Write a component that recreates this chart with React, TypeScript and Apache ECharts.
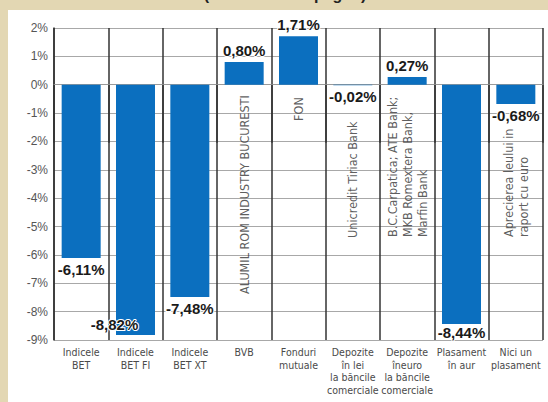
import React, { useEffect, useRef } from "react";
import * as echarts from "echarts";

const categories = [
  "Indicele\nBET",
  "Indicele\nBET FI",
  "Indicele\nBET XT",
  "BVB",
  "Fonduri\nmutuale",
  "Depozite\nîn lei\nla băncile\ncomerciale",
  "Depozite\nîneuro\nla băncile\ncomerciale",
  "Plasament\nîn aur",
  "Nici un\nplasament",
];

const returns = [-6.11, -8.82, -7.48, 0.8, 1.71, -0.02, 0.27, -8.44, -0.68];

const yTicks = { min: -9, max: 2, step: 1 };

const noteTexts = [
  "ALUMIL ROM INDUSTRY BUCURESTI",
  "FON",
  "Unicredit Tiriac Bank",
  "B.C.Carpatica; ATE Bank;\nMKB Romextera Bank,\nMarfin Bank",
  "Aprecierea leului in\nraport cu euro",
];
const noteCategories = [3, 4, 5, 6, 8];
const noteAnchors = [-0.37, -0.44, -5.4, -5.37, -5.37];
const noteAlign = ["right", "right", "left", "left", "left"];

const titleText = "(continuare în pagini)";

const labelOffsets: Record<number, number[]> = { 1: [-21, -22], 7: [0, -3] };

const fmt = (v: number) => v.toFixed(2).replace(".", ",") + "%";

export default function App() {
  const ref = useRef<HTMLDivElement>(null);
  useEffect(() => {
    if (!ref.current) return;
    const chart = echarts.init(ref.current, undefined, { renderer: "svg" });
    const narrow = "'Liberation Sans Narrow', 'DejaVu Sans Condensed', sans-serif";
    chart.setOption({
      animation: false,
      backgroundColor: "#ffffff",
      graphic: [
        { type: "rect", shape: { x: 0, y: 0, width: 548, height: 10 }, style: { fill: "#e3d7b3" } },
        { type: "rect", shape: { x: 0, y: 0, width: 8, height: 402 }, style: { fill: "#e3d7b3" } },
        {
          type: "text",
          x: 285,
          y: -6,
          style: {
            text: titleText,
            fontFamily: "'Liberation Sans', Arial, sans-serif",
            fontWeight: "bold",
            fontSize: 16,
            fill: "#222",
            align: "center",
            verticalAlign: "middle",
          },
        },
      ],
      grid: { left: 54, right: 5, top: 28, bottom: 62, containLabel: false },
      xAxis: {
        type: "category",
        data: categories,
        position: "bottom",
        axisLine: { show: true, lineStyle: { color: "#9a9a9a", width: 1 } },
        axisTick: { show: true, interval: 0, length: 58, lineStyle: { color: "#333", width: 1.5 } },
        splitLine: { show: true, interval: 0, lineStyle: { color: "#333", width: 1.5 } },
        axisLabel: {
          interval: 0,
          margin: 6,
          fontFamily: narrow,
          fontSize: 10.5,
          lineHeight: 12.5,
          color: "#4a4a4a",
        },
      },
      yAxis: {
        type: "value",
        min: yTicks.min,
        max: yTicks.max,
        interval: yTicks.step,
        axisLine: { show: true, lineStyle: { color: "#333", width: 1.5 } },
        axisTick: { show: false },
        splitLine: { show: true, lineStyle: { color: "#a8a8a8", width: 1.2 } },
        axisLabel: {
          formatter: "{value}%",
          color: "#555",
          fontSize: 12,
          margin: 6,
          fontFamily: "'Liberation Sans', Arial, sans-serif",
        },
      },
      series: [
        {
          type: "bar",
          barWidth: 39,
          itemStyle: { color: "#0b6fbf" },
          label: {
            show: true,
            position: "outside",
            distance: 4,
            formatter: (p: any) => fmt(p.value),
            fontFamily: "'Liberation Sans', Arial, sans-serif",
            fontWeight: "bold",
            fontSize: 15,
            color: "#1a1a1a",
            textBorderColor: "#ffffff",
            textBorderWidth: 2,
          },
          data: returns.map((v, i) =>
            labelOffsets[i] ? { value: v, label: { offset: labelOffsets[i] } } : v
          ),
          z: 3,
        },
        {
          type: "scatter",
          symbolSize: 0,
          silent: true,
          z: 4,
          data: noteTexts.map((t, i) => ({
            value: [noteCategories[i], noteAnchors[i]],
            label: {
              show: true,
              position: "inside",
              formatter: t,
              rotate: 90,
              align: noteAlign[i],
              verticalAlign: "middle",
              fontFamily: narrow,
              fontSize: 12.5,
              lineHeight: 15,
              color: "#333",
            },
          })),
        },
      ],
    });
    return () => chart.dispose();
  }, []);
  return (
    <div
      ref={ref}
      style={{ position: "fixed", left: 0, top: 0, width: 548, height: 402 }}
    />
  );
}
